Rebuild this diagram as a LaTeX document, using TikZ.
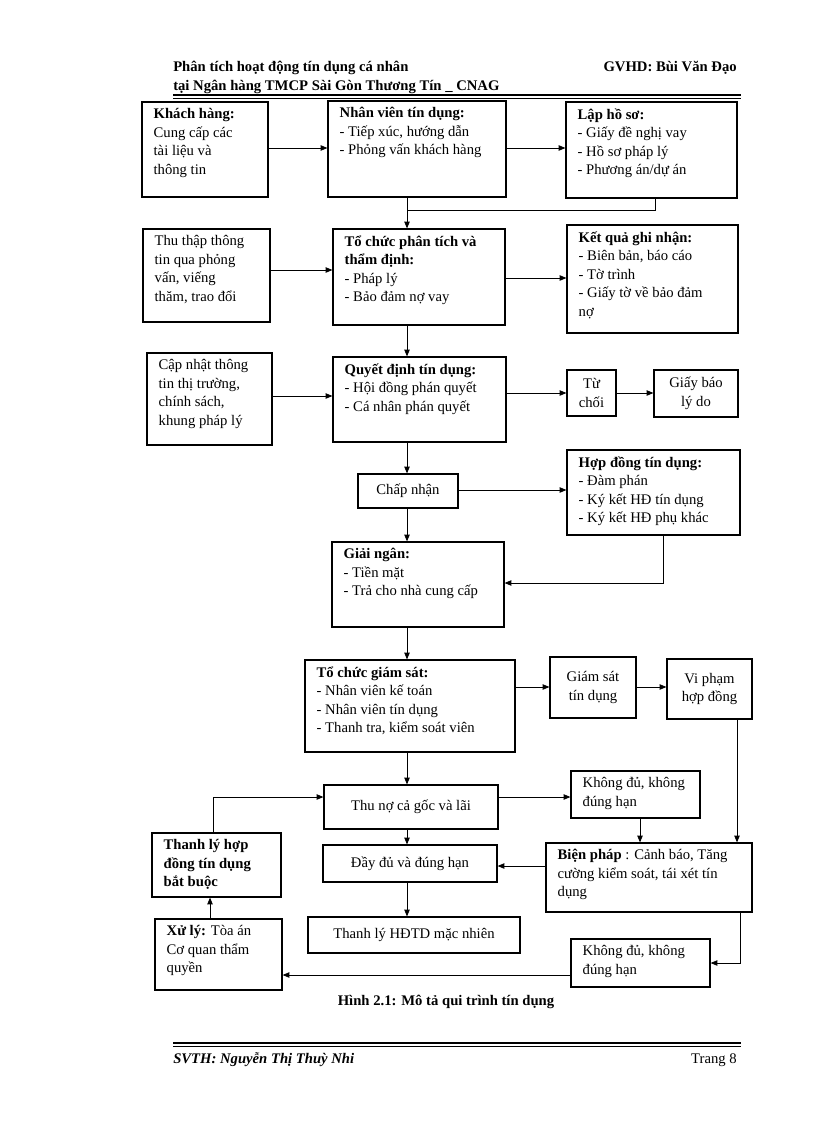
\documentclass[tikz,border=0pt]{standalone}
\usepackage{fontspec}
\setmainfont{Liberation Serif}
\usetikzlibrary{fit,arrows.meta}
\begin{document}
\begin{tikzpicture}[x=0.75pt,y=-0.75pt,
  box/.style={draw,line width=0.9pt,inner sep=0pt},
  txt/.style={anchor=north west,align=left,inner sep=0pt,font=\fontsize{11}{13.9}\selectfont},
  ctxt/.style={align=center,inner sep=0pt,font=\fontsize{11}{13.9}\selectfont},
  arr/.style={-{Triangle[length=5pt,width=4pt]},line width=0.6pt},
  ln/.style={line width=0.6pt}]
\useasboundingbox (0,0) rectangle (816,1123);
\newcommand{\bx}[6]{\node[box,fit={(#2,#3)(#4,#5)}] (#1) {};
  \node[txt] at ([xshift=9pt,yshift=-5pt]#1.north west) {#6};}
\newcommand{\cbx}[6]{\node[box,fit={(#2,#3)(#4,#5)}] (#1) {};
  \node[ctxt] at (#1.center) {#6};}
% header/footer
\node[anchor=base west,inner sep=0,font=\fontsize{11}{13}\selectfont\bfseries] at (173,72) {Phân tích hoạt động tín dụng cá nhân};
\node[anchor=base west,inner sep=0,font=\fontsize{11}{13}\selectfont\bfseries] at (173,91) {tại Ngân hàng TMCP Sài Gòn Thương Tín \_ CNAG};
\node[anchor=base east,inner sep=0,font=\fontsize{11}{13}\selectfont\bfseries] at (737,72) {GVHD: Bùi Văn Đạo};
\draw[line width=2.2pt] (173,95)--(741,95);
\draw[line width=0.5pt] (173,98.5)--(741,98.5);
\draw[line width=2.2pt] (173,1043)--(741,1043);
\draw[line width=0.5pt] (173,1046.5)--(741,1046.5);
\node[anchor=base west,inner sep=0,font=\fontsize{11}{13}\selectfont\bfseries\itshape] at (173,1063) {SVTH: Nguyễn Thị Thuỳ Nhi};
\node[anchor=base east,inner sep=0,font=\fontsize{11}{13}\selectfont] at (737,1063) {Trang 8};
\node[anchor=base,inner sep=0,font=\fontsize{11}{13}\selectfont\bfseries] (cap) at (446,1005) {Hình 2.1: Mô tả qui trình tín dụng};
% boxes
\bx{kh}{142}{102}{268}{197}{\textbf{Khách hàng:}\\Cung cấp các\\tài liệu và\\thông tin}
\bx{nv}{328}{101}{506}{197}{\textbf{Nhân viên tín dụng:}\\- Tiếp xúc, hướng dẫn\\- Phỏng vấn khách hàng}
\bx{lhs}{566}{102}{737}{198}{\textbf{Lập hồ sơ:}\\- Giấy đề nghị vay\\- Hồ sơ pháp lý\\- Phương án/dự án}
\bx{tt}{143}{229}{270}{322}{Thu thập thông\\tin qua phỏng\\vấn, viếng\\thăm, trao đổi}
\bx{pt}{333}{229}{505}{325}{\textbf{Tổ chức phân tích và}\\\textbf{thẩm định:}\\- Pháp lý\\- Bảo đảm nợ vay}
\bx{kq}{567}{225}{738}{333}{\textbf{Kết quả ghi nhận:}\\- Biên bản, báo cáo\\- Tờ trình\\- Giấy tờ về bảo đảm\\nợ}
\bx{cn}{147}{353}{272}{445}{Cập nhật thông\\tin thị trường,\\chính sách,\\khung pháp lý}
\bx{qd}{333}{357}{506}{442}{\textbf{Quyết định tín dụng:}\\- Hội đồng phán quyết\\- Cá nhân phán quyết}
\cbx{tc}{567}{370}{616}{416}{Từ\\chối}
\cbx{gb}{654}{370}{738}{417}{Giấy báo\\lý do}
\cbx{chn}{358}{474}{458}{508}{Chấp nhận}
\bx{hd}{567}{450}{740}{535}{\textbf{Hợp đồng tín dụng:}\\- Đàm phán\\- Ký kết HĐ tín dụng\\- Ký kết HĐ phụ khác}
\bx{gn}{332}{542}{504}{627}{\textbf{Giải ngân:}\\- Tiền mặt\\- Trả cho nhà cung cấp}
\bx{gs}{305}{660}{515}{752}{\textbf{Tổ chức giám sát:}\\- Nhân viên kế toán\\- Nhân viên tín dụng\\- Thanh tra, kiểm soát viên}
\cbx{gstd}{550}{657}{636}{718}{Giám sát\\tín dụng}
\cbx{vp}{667}{659}{752}{719}{Vi phạm\\hợp đồng}
\cbx{tn}{324}{785}{498}{829}{Thu nợ cả gốc và lãi}
\bx{kd1}{571}{771}{700}{818}{Không đủ, không\\đúng hạn}
\bx{tlb}{152}{833}{281}{897}{\textbf{Thanh lý hợp}\\\textbf{đồng tín dụng}\\\textbf{bắt buộc}}
\cbx{dd}{323}{845}{497}{882}{Đầy đủ và đúng hạn}
\bx{bp}{546}{843}{752}{912}{\textbf{Biện pháp} : Cảnh báo, Tăng\\cường kiểm soát, tái xét tín\\dụng}
\bx{xl}{155}{919}{282}{990}{\textbf{Xử lý:} Tòa án\\Cơ quan thẩm\\quyền}
\cbx{tlm}{308}{917}{520}{953}{Thanh lý HĐTD mặc nhiên}
\bx{kd2}{571}{939}{710}{987}{Không đủ, không\\đúng hạn}
% connectors
\draw[arr] (kh.east|-0,148) -- (nv.west|-0,148);
\draw[arr] (nv.east|-0,148) -- (lhs.west|-0,148);
\draw[arr] (nv.south-|407,0) -- (pt.north-|407,0);
\draw[ln] (lhs.south-|655,0) -- (655,210) -- (407,210);
\draw[arr] (tt.east|-0,270) -- (pt.west|-0,270);
\draw[arr] (pt.east|-0,278) -- (kq.west|-0,278);
\draw[arr] (pt.south-|407,0) -- (qd.north-|407,0);
\draw[arr] (cn.east|-0,396) -- (qd.west|-0,396);
\draw[arr] (qd.east|-0,393) -- (tc.west|-0,393);
\draw[arr] (tc.east|-0,393) -- (gb.west|-0,393);
\draw[arr] (qd.south-|407,0) -- (chn.north-|407,0);
\draw[arr] (chn.east|-0,490) -- (hd.west|-0,490);
\draw[arr] (chn.south-|407,0) -- (gn.north-|407,0);
\draw[arr] (hd.south-|663,0) -- (663,583) -- (gn.east|-0,583);
\draw[arr] (gn.south-|407,0) -- (gs.north-|407,0);
\draw[arr] (gs.east|-0,687) -- (gstd.west|-0,687);
\draw[arr] (gstd.east|-0,687) -- (vp.west|-0,687);
\draw[arr] (gs.south-|407,0) -- (tn.north-|407,0);
\draw[arr] (tn.east|-0,797) -- (kd1.west|-0,797);
\draw[arr] (tn.south-|407,0) -- (dd.north-|407,0);
\draw[arr] (kd1.south-|640,0) -- (bp.north-|640,0);
\draw[arr] (vp.south-|737,0) -- (bp.north-|737,0);
\draw[arr] (bp.west|-0,866) -- (dd.east|-0,866);
\draw[arr] (dd.south-|407,0) -- (tlm.north-|407,0);
\draw[arr] (bp.south-|740,0) -- (740,963) -- (kd2.east|-0,963);
\draw[arr] (kd2.west|-0,975) -- (xl.east|-0,975);
\draw[arr] (xl.north-|210,0) -- (tlb.south-|210,0);
\draw[arr] (tlb.north-|213,0) -- (213,797) -- (tn.west|-0,797);
\end{tikzpicture}
\end{document}
